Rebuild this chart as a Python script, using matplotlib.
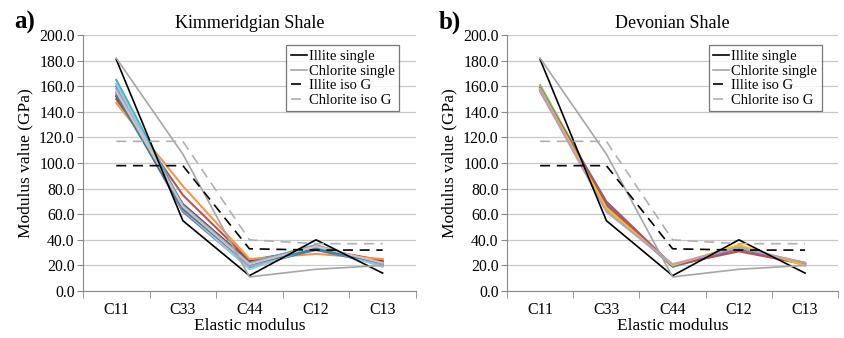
import numpy as np
import matplotlib.pyplot as plt

plt.rcParams['font.family'] = 'serif'
plt.rcParams['font.serif'] = ['Liberation Serif', 'DejaVu Serif']

moduli = ["C11", "C33", "C44", "C12", "C13"]

# reference curves (same in both panels)
illite_single = [181, 55, 12, 40, 14]
chlorite_single = [182, 107, 11, 17, 20]
illite_iso_g = [98, 98, 33, 32, 32]
chlorite_iso_g = [117, 117, 40, 37, 37]

# sample curves, Kimmeridgian shale
kim_samples = [
    [150, 75, 24, 33, 24],
    [152, 68, 23, 34, 23],
    [147, 82, 25, 29, 25],
    [155, 62, 18, 33, 20],
    [160, 65, 20, 32, 21],
    [165, 67, 22, 36, 20],
    [158, 63, 19, 34, 21],
    [162, 64, 17, 35, 19],
    [153, 64, 21, 33, 22],
    [156, 66, 21, 35, 22],
]
kim_colors = ["#c0504d", "#943634", "#f79646", "#7f63a8", "#4f81bd",
              "#4bacc6", "#95a9cf", "#92cddc", "#31859c", "#e6b9b8"]

# sample curves, Devonian shale
dev_samples = [
    [161, 68, 19, 34, 21],
    [158, 70, 20, 33, 22],
    [157, 67, 20, 32, 21],
    [156, 63, 20, 35, 20],
    [159, 66, 19, 33, 21],
    [157, 68, 20, 31, 21],
    [158, 65, 20, 36, 20],
    [157, 62, 21, 34, 22],
]
dev_colors = ["#9bbb59", "#8064a2", "#f79646", "#d99694", "#4f81bd",
              "#c0504d", "#ffc000", "#b3a2c7"]

fig = plt.figure(figsize=(8.45, 3.38), dpi=100)
ax_a = fig.add_axes([0.0982, 0.139, 0.394, 0.757])
ax_b = fig.add_axes([0.600, 0.139, 0.392, 0.757])

x = np.arange(len(moduli))

for ax, samples, colors, title, tag in [
        (ax_a, kim_samples, kim_colors, "Kimmeridgian Shale", "a)"),
        (ax_b, dev_samples, dev_colors, "Devonian Shale", "b)")]:
    ax.yaxis.grid(True, color="#c8c8c8", lw=0.9)
    ax.set_axisbelow(True)
    for s, c in zip(samples, colors):
        ax.plot(x, s, color=c, lw=1.5)
    ax.plot(x, illite_single, color="black", lw=1.2, label="Illite single")
    ax.plot(x, chlorite_single, color="#a6a6a6", lw=1.2, label="Chlorite single")
    ax.plot(x, illite_iso_g, color="black", lw=1.2, dashes=(6, 4), label="Illite iso G")
    ax.plot(x, chlorite_iso_g, color="#b0b0b0", lw=1.2, dashes=(6, 4), label="Chlorite iso G")

    ax.set_xlim(-0.5, len(moduli) - 0.5)
    ax.set_ylim(0, 200)
    ax.set_yticks(np.arange(0, 201, 20))
    ax.set_yticklabels(["%.1f" % v for v in np.arange(0, 201, 20)])
    ax.set_xticks(x)
    ax.set_xticklabels(moduli)
    ax.set_xticks(np.arange(-0.5, len(moduli), 1), minor=True)
    ax.tick_params(axis="x", which="major", length=0, pad=8, labelsize=11.5)
    ax.tick_params(axis="x", which="minor", length=5, color="#888888")
    ax.tick_params(axis="y", length=4, color="#888888", labelsize=11.3, pad=2)
    for sp in ["top", "right"]:
        ax.spines[sp].set_visible(False)
    for sp in ["left", "bottom"]:
        ax.spines[sp].set_color("#888888")
    ax.set_xlabel("Elastic modulus", fontsize=12.5, labelpad=0)
    ax.set_ylabel("Modulus value (GPa)", fontsize=12.5, labelpad=4)
    ax.set_title(title, fontsize=13, pad=5)
    ax.text(-0.205, 1.05, tag, transform=ax.transAxes, fontsize=18,
            fontweight="bold", ha="left", va="center")
    leg = ax.legend(loc="upper right", bbox_to_anchor=(0.95, 0.96), fontsize=10.5,
                    handlelength=1.1, handletextpad=0.15, borderpad=0.3,
                    labelspacing=0.1, borderaxespad=0.0, frameon=True, fancybox=False)
    leg.get_frame().set_edgecolor("#555555")
    leg.get_frame().set_linewidth(0.9)

fig.savefig("out.png", dpi=100)
